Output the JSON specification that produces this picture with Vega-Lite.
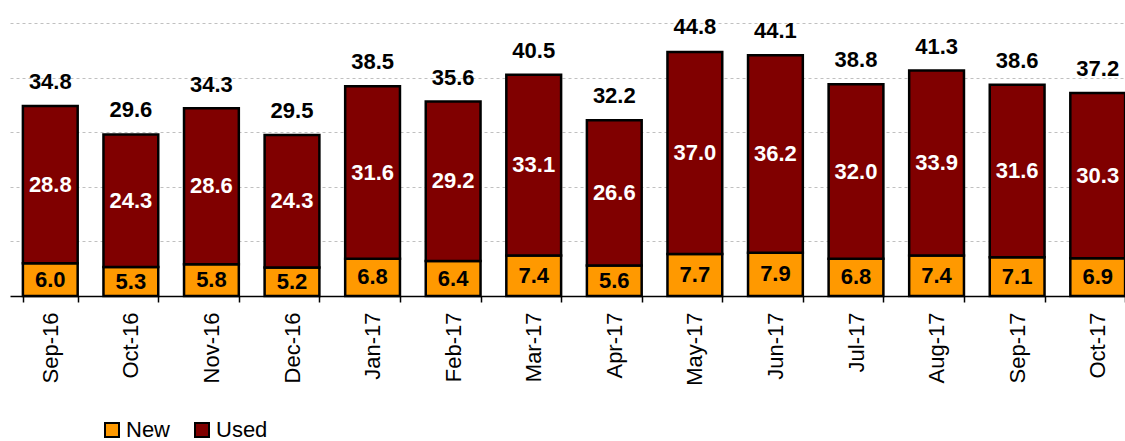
{
  "$schema": "https://vega.github.io/schema/vega-lite/v6.json",
  "width": 1128,
  "height": 273,
  "autosize": {"type": "none"},
  "padding": {"left": 10, "top": 23, "right": -13, "bottom": 145},
  "config": {
    "font": "Liberation Sans",
    "view": {"stroke": null},
    "axisY": {
      "title": null,
      "labels": false,
      "ticks": false,
      "domain": false,
      "grid": true,
      "gridDash": [3, 3],
      "gridColor": "#c0c0c0",
      "gridWidth": 1
    }
  },
  "data": {
    "values": [
      {"month": "Sep-16", "New": 6.0, "Used": 28.8, "total": 34.8},
      {"month": "Oct-16", "New": 5.3, "Used": 24.3, "total": 29.6},
      {"month": "Nov-16", "New": 5.8, "Used": 28.6, "total": 34.3},
      {"month": "Dec-16", "New": 5.2, "Used": 24.3, "total": 29.5},
      {"month": "Jan-17", "New": 6.8, "Used": 31.6, "total": 38.5},
      {"month": "Feb-17", "New": 6.4, "Used": 29.2, "total": 35.6},
      {"month": "Mar-17", "New": 7.4, "Used": 33.1, "total": 40.5},
      {"month": "Apr-17", "New": 5.6, "Used": 26.6, "total": 32.2},
      {"month": "May-17", "New": 7.7, "Used": 37.0, "total": 44.8},
      {"month": "Jun-17", "New": 7.9, "Used": 36.2, "total": 44.1},
      {"month": "Jul-17", "New": 6.8, "Used": 32.0, "total": 38.8},
      {"month": "Aug-17", "New": 7.4, "Used": 33.9, "total": 41.3},
      {"month": "Sep-17", "New": 7.1, "Used": 31.6, "total": 38.6},
      {"month": "Oct-17", "New": 6.9, "Used": 30.3, "total": 37.2}
    ]
  },
  "encoding": {
    "x": {
      "field": "month",
      "type": "nominal",
      "sort": null,
      "scale": {"paddingInner": 0.32, "paddingOuter": 0.16},
      "axis": {
        "title": null,
        "labelAngle": -90,
        "labelFontSize": 22,
        "labelColor": "black",
        "tickBand": "extent",
        "tickSize": 6,
        "tickColor": "black",
        "tickWidth": 1.5,
        "domainColor": "black",
        "domainWidth": 1.5,
        "labelPadding": 10,
        "grid": false
      }
    }
  },
  "layer": [
    {
      "transform": [{"fold": ["New", "Used"], "as": ["key", "value"]}],
      "mark": {"type": "bar", "stroke": "black", "strokeWidth": 2.5},
      "encoding": {
        "y": {
          "field": "value",
          "type": "quantitative",
          "stack": "zero",
          "scale": {"domain": [0, 50]},
          "axis": {"values": [10, 20, 30, 40, 50]}
        },
        "color": {
          "field": "key",
          "type": "nominal",
          "scale": {"domain": ["New", "Used"], "range": ["#FF9900", "#800000"]},
          "legend": {
            "title": null,
            "orient": "none",
            "legendX": 91,
            "legendY": 396,
            "direction": "horizontal",
            "symbolType": "square",
            "symbolSize": 196,
            "symbolStrokeColor": "black",
            "symbolStrokeWidth": 2,
            "symbolOpacity": 1,
            "labelFontSize": 22,
            "labelColor": "black",
            "columnPadding": 20,
            "labelOffset": 3,
            "padding": 0
          }
        },
        "order": {"field": "key", "sort": "ascending"}
      }
    },
    {
      "transform": [{"fold": ["New", "Used"], "as": ["key", "value"]}],
      "mark": {"type": "text", "fontSize": 22, "fontWeight": "bold", "baseline": "middle"},
      "encoding": {
        "y": {"field": "value", "type": "quantitative", "stack": "zero", "bandPosition": 0.5, "axis": {"values": [10, 20, 30, 40, 50]}},
        "text": {"field": "value", "type": "quantitative", "format": ".1f"},
        "color": {"condition": {"test": "datum.key === 'Used'", "value": "white"}, "value": "black"},
        "order": {"field": "key", "sort": "ascending"}
      }
    },
    {
      "mark": {"type": "text", "fontSize": 22, "fontWeight": "bold", "baseline": "alphabetic", "dy": -17, "color": "black"},
      "encoding": {
        "y": {"field": "total", "type": "quantitative", "axis": {"values": [10, 20, 30, 40, 50]}},
        "text": {"field": "total", "type": "quantitative", "format": ".1f"}
      }
    }
  ]
}
